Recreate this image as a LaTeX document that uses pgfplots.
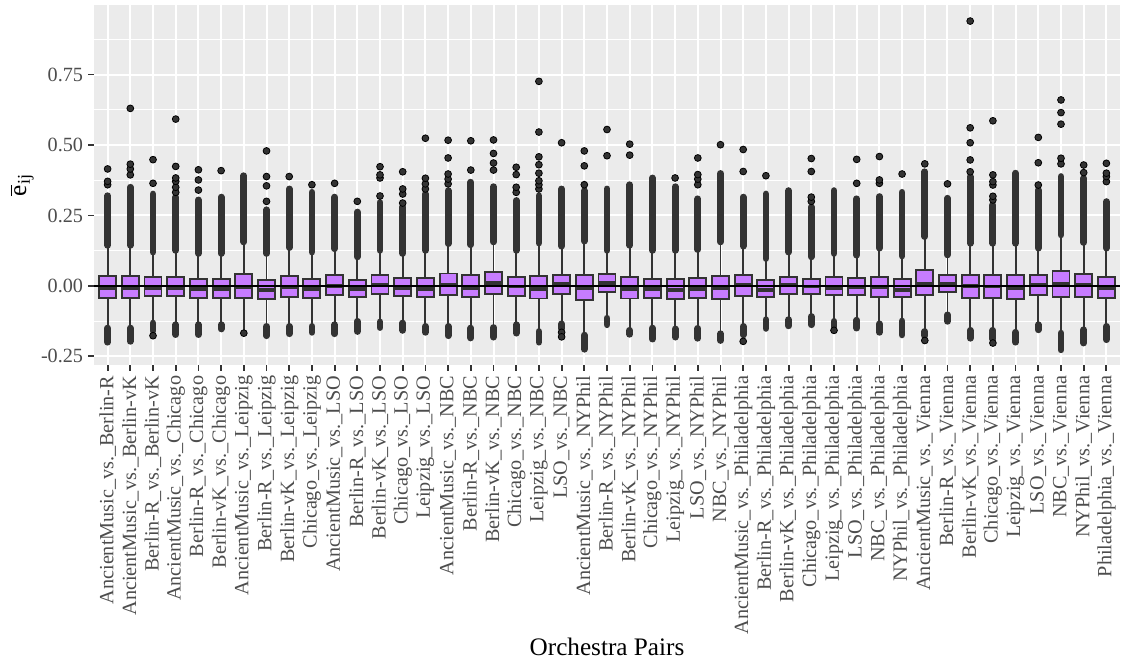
\documentclass[border=0pt]{standalone}
\usepackage{fontspec}
\setmainfont{Liberation Serif}
\usepackage{pgfplots}
\usepackage{pgfplotstable}
\pgfplotsset{compat=1.18}
\usepgfplotslibrary{statistics}

\definecolor{boxpurple}{HTML}{C77CFF}
\definecolor{grey20}{HTML}{333333}
\definecolor{grey30}{HTML}{4D4D4D}
\definecolor{grey92}{HTML}{EBEBEB}

% one box: position, lower whisker, Q1, median, Q3, upper whisker
\newcommand{\bx}[6]{%
  \addplot[mark=none, draw=grey20, fill=boxpurple, line width=0.95pt,
    boxplot prepared={draw direction=y, draw position=#1, lower whisker=#2,
      lower quartile=#3, median=#4, upper quartile=#5, upper whisker=#6,
      box extend=0.75, whisker extend=0}]
    coordinates {};}
% a dense run of outliers between two values
\newcommand{\band}[3]{%
  \addplot[grey20, line width=3.4pt, line cap=round] coordinates {(#1,#2) (#1,#3)};}

% isolated outliers
\pgfplotstableread{
x y
1 0.359
1 0.371
1 0.415
2 0.394
2 0.415
2 0.432
2 0.630
3 0.364
3 0.448
3 -0.177
4 0.332
4 0.350
4 0.371
4 0.383
4 0.424
4 0.592
5 0.340
5 0.376
5 0.412
6 0.409
7 -0.168
8 0.300
8 0.355
8 0.388
8 0.479
9 0.388
10 0.359
11 0.364
12 0.300
13 0.319
13 0.383
13 0.394
13 0.423
14 0.294
14 0.326
14 0.344
14 0.405
15 0.344
15 0.362
15 0.382
15 0.524
16 0.362
16 0.379
16 0.397
16 0.454
16 0.517
17 0.411
17 0.515
18 0.411
18 0.436
18 0.470
18 0.518
19 0.332
19 0.350
19 0.395
19 0.421
20 0.344
20 0.359
20 0.373
20 0.400
20 0.430
20 0.458
20 0.546
20 0.726
21 0.508
21 -0.165
21 -0.181
22 0.359
22 0.426
22 0.479
23 0.462
23 0.555
24 0.464
24 0.503
26 0.383
27 0.359
27 0.379
27 0.395
27 0.454
28 0.501
29 0.406
29 0.484
29 -0.197
30 0.391
32 0.300
32 0.315
32 0.406
32 0.452
33 -0.158
34 0.364
34 0.449
35 0.364
35 0.376
35 0.459
36 0.397
37 0.433
37 -0.194
38 0.362
39 0.405
39 0.447
39 0.508
39 0.561
39 0.940
40 0.305
40 0.318
40 0.358
40 0.370
40 0.394
40 0.586
40 -0.203
42 0.358
42 0.437
42 0.527
43 0.433
43 0.453
43 0.574
43 0.615
43 0.660
44 0.402
44 0.429
45 0.370
45 0.388
45 0.400
45 0.435
}\sparse

\begin{document}
\begin{tikzpicture}
\useasboundingbox (-47pt,-146pt) rectangle (514pt,182.5pt);
\begin{axis}[
  at={(0,0)}, anchor=south west,
  scale only axis, width=513pt, height=180pt,
  xmin=0.4, xmax=45.6, ymin=-0.281, ymax=0.997,
  axis line style={draw=none},
  axis background/.style={fill=grey92},
  xmajorgrids, ymajorgrids, yminorgrids,
  major grid style={white, line width=1pt},
  minor grid style={white, line width=0.5pt},
  ytick={-0.25,0,0.25,0.5,0.75},
  yticklabels={-0.25,0.00,0.25,0.50,0.75},
  minor ytick={-0.125,0.125,0.375,0.625,0.875},
  xtick={1,...,45},
  xticklabels={
    AncientMusic\_vs.\_Berlin-R, AncientMusic\_vs.\_Berlin-vK, Berlin-R\_vs.\_Berlin-vK,
    AncientMusic\_vs.\_Chicago, Berlin-R\_vs.\_Chicago, Berlin-vK\_vs.\_Chicago,
    AncientMusic\_vs.\_Leipzig, Berlin-R\_vs.\_Leipzig, Berlin-vK\_vs.\_Leipzig,
    Chicago\_vs.\_Leipzig, AncientMusic\_vs.\_LSO, Berlin-R\_vs.\_LSO,
    Berlin-vK\_vs.\_LSO, Chicago\_vs.\_LSO, Leipzig\_vs.\_LSO,
    AncientMusic\_vs.\_NBC, Berlin-R\_vs.\_NBC, Berlin-vK\_vs.\_NBC,
    Chicago\_vs.\_NBC, Leipzig\_vs.\_NBC, LSO\_vs.\_NBC,
    AncientMusic\_vs.\_NYPhil, Berlin-R\_vs.\_NYPhil, Berlin-vK\_vs.\_NYPhil,
    Chicago\_vs.\_NYPhil, Leipzig\_vs.\_NYPhil, LSO\_vs.\_NYPhil,
    NBC\_vs.\_NYPhil, AncientMusic\_vs.\_Philadelphia, Berlin-R\_vs.\_Philadelphia,
    Berlin-vK\_vs.\_Philadelphia, Chicago\_vs.\_Philadelphia, Leipzig\_vs.\_Philadelphia,
    LSO\_vs.\_Philadelphia, NBC\_vs.\_Philadelphia, NYPhil\_vs.\_Philadelphia,
    AncientMusic\_vs.\_Vienna, Berlin-R\_vs.\_Vienna, Berlin-vK\_vs.\_Vienna,
    Chicago\_vs.\_Vienna, Leipzig\_vs.\_Vienna, LSO\_vs.\_Vienna,
    NBC\_vs.\_Vienna, NYPhil\_vs.\_Vienna, Philadelphia\_vs.\_Vienna},
  tick pos=left, tick align=outside,
  major tick length=2.75pt, minor tick length=0pt,
  tick style={grey20, line width=0.9pt},
  ticklabel style={font=\fontsize{10.1}{12}\selectfont, text=grey30},
  xticklabel style={rotate=90, anchor=east, inner sep=2.5pt},
  yticklabel style={anchor=east, inner sep=2.5pt},
  xlabel={Orchestra Pairs},
  xlabel style={font=\fontsize{12.6}{14}\selectfont, at={(axis description cs:0.5,-0.8056)}, anchor=base},
  ylabel={$\overline{\mbox{e}}_{\mbox{\fontsize{9}{9}\selectfont ij}}$},
  ylabel style={font=\fontsize{12.6}{14}\selectfont, at={(axis description cs:-0.0702,0.5)}, anchor=center, rotate=0},
  boxplot/draw direction=y,
  boxplot/every median/.style={line width=1.8pt},
]
\bx{1}{-0.146}{-0.042}{-0.008}{0.035}{0.140} \band{1}{-0.150}{-0.200} \band{1}{0.144}{0.320}
\bx{2}{-0.146}{-0.042}{-0.009}{0.035}{0.140} \band{2}{-0.150}{-0.197} \band{2}{0.144}{0.350}
\bx{3}{-0.128}{-0.035}{-0.009}{0.031}{0.116} \band{3}{-0.132}{-0.160} \band{3}{0.120}{0.326}
\bx{4}{-0.134}{-0.036}{-0.008}{0.033}{0.122} \band{4}{-0.138}{-0.173} \band{4}{0.126}{0.315}
\bx{5}{-0.134}{-0.042}{-0.012}{0.025}{0.111} \band{5}{-0.138}{-0.173} \band{5}{0.115}{0.305}
\bx{6}{-0.134}{-0.042}{-0.012}{0.025}{0.111} \band{6}{-0.138}{-0.153} \band{6}{0.115}{0.315}
\bx{7}{-0.155}{-0.042}{-0.004}{0.042}{0.152} \band{7}{0.156}{0.391}
\bx{8}{-0.140}{-0.048}{-0.015}{0.021}{0.111} \band{8}{-0.144}{-0.177} \band{8}{0.115}{0.270}
\bx{9}{-0.140}{-0.038}{-0.006}{0.035}{0.132} \band{9}{-0.144}{-0.170} \band{9}{0.136}{0.344}
\bx{10}{-0.140}{-0.043}{-0.012}{0.025}{0.116} \band{10}{-0.144}{-0.165} \band{10}{0.120}{0.332}
\bx{11}{-0.134}{-0.031}{0.000}{0.037}{0.128} \band{11}{-0.138}{-0.170} \band{11}{0.132}{0.315}
\bx{12}{-0.122}{-0.040}{-0.012}{0.021}{0.099} \band{12}{-0.126}{-0.162} \band{12}{0.103}{0.262}
\bx{13}{-0.124}{-0.029}{0.002}{0.037}{0.122} \band{13}{-0.128}{-0.148} \band{13}{0.126}{0.296}
\bx{14}{-0.128}{-0.036}{-0.009}{0.029}{0.111} \band{14}{-0.132}{-0.158} \band{14}{0.115}{0.280}
\bx{15}{-0.140}{-0.040}{-0.012}{0.029}{0.122} \band{15}{-0.144}{-0.165} \band{15}{0.126}{0.326}
\bx{16}{-0.140}{-0.033}{0.002}{0.044}{0.146} \band{16}{-0.144}{-0.177} \band{16}{0.150}{0.338}
\bx{17}{-0.146}{-0.040}{-0.010}{0.037}{0.142} \band{17}{-0.150}{-0.185} \band{17}{0.146}{0.368}
\bx{18}{-0.144}{-0.029}{0.010}{0.049}{0.152} \band{18}{-0.148}{-0.182} \band{18}{0.156}{0.352}
\bx{19}{-0.134}{-0.036}{-0.003}{0.032}{0.122} \band{19}{-0.138}{-0.168} \band{19}{0.126}{0.303}
\bx{20}{-0.158}{-0.045}{-0.012}{0.036}{0.148} \band{20}{-0.162}{-0.200} \band{20}{0.152}{0.320}
\bx{21}{-0.131}{-0.030}{0.006}{0.039}{0.137} \band{21}{-0.135}{-0.152} \band{21}{0.141}{0.344}
\bx{22}{-0.171}{-0.050}{-0.009}{0.037}{0.155} \band{22}{-0.175}{-0.225} \band{22}{0.159}{0.338}
\bx{23}{-0.111}{-0.023}{0.011}{0.042}{0.122} \band{23}{-0.115}{-0.138} \band{23}{0.126}{0.344}
\bx{24}{-0.154}{-0.045}{-0.012}{0.030}{0.140} \band{24}{-0.158}{-0.172} \band{24}{0.144}{0.359}
\bx{25}{-0.146}{-0.043}{-0.012}{0.025}{0.122} \band{25}{-0.150}{-0.189} \band{25}{0.126}{0.383}
\bx{26}{-0.149}{-0.048}{-0.015}{0.023}{0.122} \band{26}{-0.153}{-0.182} \band{26}{0.126}{0.352}
\bx{27}{-0.147}{-0.043}{-0.012}{0.027}{0.125} \band{27}{-0.151}{-0.186} \band{27}{0.129}{0.309}
\bx{28}{-0.166}{-0.048}{-0.009}{0.035}{0.152} \band{28}{-0.170}{-0.194} \band{28}{0.156}{0.399}
\bx{29}{-0.140}{-0.036}{0.002}{0.037}{0.137} \band{29}{-0.144}{-0.174} \band{29}{0.141}{0.315}
\bx{30}{-0.116}{-0.038}{-0.015}{0.021}{0.093} \band{30}{-0.120}{-0.151} \band{30}{0.097}{0.326}
\bx{31}{-0.116}{-0.029}{0.002}{0.032}{0.116} \band{31}{-0.120}{-0.142} \band{31}{0.120}{0.338}
\bx{32}{-0.105}{-0.029}{-0.003}{0.025}{0.099} \band{32}{-0.109}{-0.138} \band{32}{0.103}{0.280}
\bx{33}{-0.122}{-0.033}{-0.008}{0.030}{0.111} \band{33}{-0.126}{-0.144} \band{33}{0.115}{0.338}
\bx{34}{-0.118}{-0.033}{-0.004}{0.027}{0.105} \band{34}{-0.122}{-0.150} \band{34}{0.109}{0.309}
\bx{35}{-0.131}{-0.038}{-0.005}{0.033}{0.130} \band{35}{-0.135}{-0.165} \band{35}{0.134}{0.317}
\bx{36}{-0.121}{-0.038}{-0.014}{0.024}{0.102} \band{36}{-0.125}{-0.174} \band{36}{0.106}{0.332}
\bx{37}{-0.158}{-0.033}{0.009}{0.057}{0.171} \band{37}{-0.162}{-0.177} \band{37}{0.175}{0.405}
\bx{38}{-0.099}{-0.021}{0.009}{0.038}{0.106} \band{38}{-0.103}{-0.126} \band{38}{0.110}{0.311}
\bx{39}{-0.154}{-0.044}{0.000}{0.038}{0.147} \band{39}{-0.158}{-0.186} \band{39}{0.151}{0.388}
\bx{40}{-0.154}{-0.044}{-0.002}{0.038}{0.147} \band{40}{-0.158}{-0.189} \band{40}{0.151}{0.287}
\bx{41}{-0.161}{-0.047}{-0.009}{0.038}{0.147} \band{41}{-0.165}{-0.200} \band{41}{0.151}{0.400}
\bx{42}{-0.134}{-0.033}{0.004}{0.038}{0.130} \band{42}{-0.138}{-0.156} \band{42}{0.134}{0.340}
\bx{43}{-0.164}{-0.038}{0.009}{0.052}{0.177} \band{43}{-0.168}{-0.227} \band{43}{0.181}{0.388}
\bx{44}{-0.152}{-0.038}{0.004}{0.043}{0.150} \band{44}{-0.156}{-0.203} \band{44}{0.154}{0.382}
\bx{45}{-0.140}{-0.044}{-0.009}{0.031}{0.130} \band{45}{-0.144}{-0.191} \band{45}{0.134}{0.299}
\addplot[only marks, mark=*, mark size=1.7pt, mark options={draw=none, fill=grey20}] table[x=x, y=y] {\sparse};
% reference line at zero
\addplot[black, line width=1pt] coordinates {(0.4,0) (45.6,0)};
\end{axis}
\end{tikzpicture}
\end{document}
